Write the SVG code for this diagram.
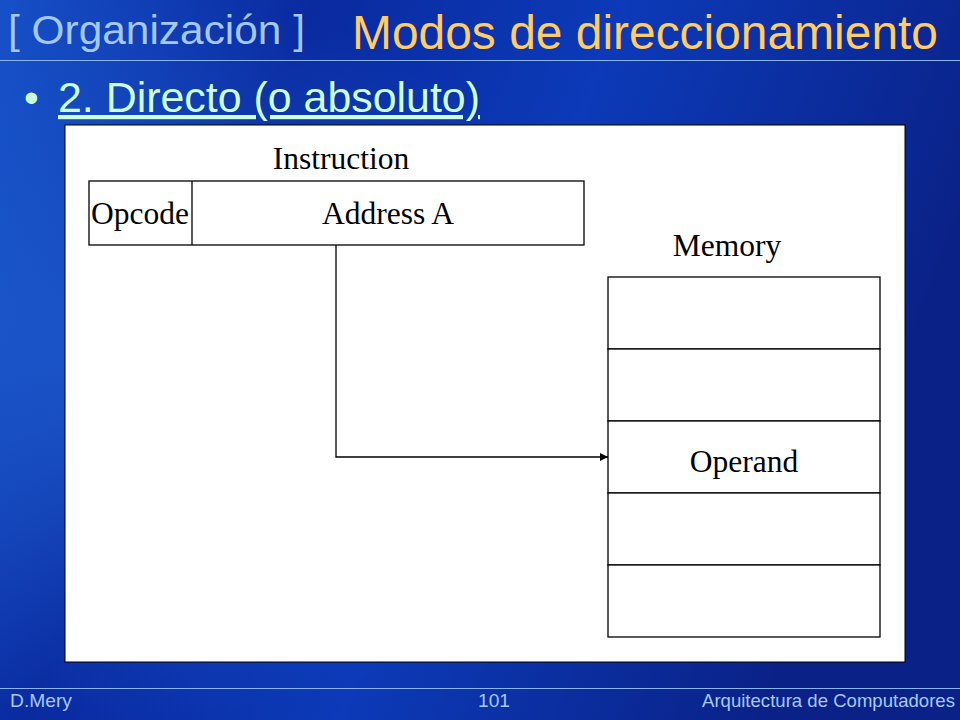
<svg xmlns="http://www.w3.org/2000/svg" width="960" height="720" viewBox="0 0 960 720">
<defs>
<linearGradient id="bg" x1="0" y1="0" x2="1" y2="0.3">
<stop offset="0" stop-color="#1650c8"/>
<stop offset="0.3" stop-color="#0a2aa0"/>
<stop offset="0.6" stop-color="#0c3ab8"/>
<stop offset="1" stop-color="#0a2288"/>
</linearGradient>
<radialGradient id="glow" cx="0.15" cy="0.5" r="0.5">
<stop offset="0" stop-color="#2a7ae8" stop-opacity="0.5"/>
<stop offset="1" stop-color="#2a7ae8" stop-opacity="0"/>
</radialGradient>
<marker id="arr" viewBox="0 0 10 10" refX="10" refY="5" markerWidth="9" markerHeight="8" markerUnits="userSpaceOnUse" orient="auto">
<path d="M0,0 L10,5 L0,10 z" fill="#000"/>
</marker>
</defs>
<style>
.t{font-family:"Liberation Serif",serif;font-size:31.5px;fill:#000}
.box{fill:#fff;stroke:#000;stroke-width:1.3}
.hdr{font-family:"Liberation Sans",Arial,sans-serif}
.ft{font-family:"Liberation Sans",Arial,sans-serif;font-size:19px;fill:#a8c8f4}
</style>
<rect width="960" height="720" fill="url(#bg)"/>
<rect width="960" height="720" fill="url(#glow)"/>
<line x1="0" y1="60.5" x2="960" y2="60.5" stroke="#8ab4ec" stroke-width="1"/>
<line x1="0" y1="688.5" x2="960" y2="688.5" stroke="#8ab4ec" stroke-width="1"/>
<text class="hdr" x="8" y="44" font-size="41" fill="#a4c8f4" textLength="297" lengthAdjust="spacingAndGlyphs">[ Organización ]</text>
<text class="hdr" x="352" y="49" font-size="48" fill="#ffcc66" textLength="586" lengthAdjust="spacingAndGlyphs">Modos de direccionamiento</text>
<text class="hdr" x="24" y="112" font-size="42" fill="#ccffdd">•</text>
<text class="hdr" x="58" y="112" font-size="42" fill="#ccffdd" text-decoration="underline" textLength="422" lengthAdjust="spacingAndGlyphs">2. Directo (o absoluto)</text>
<rect x="65" y="125" width="840" height="537" fill="#fff" stroke="#000" stroke-width="1"/>
<g id="instruction">
<text class="t" x="341" y="169" text-anchor="middle">Instruction</text>
<rect class="box" x="89" y="181" width="495" height="64"/>
<line x1="192" y1="181" x2="192" y2="245" stroke="#000" stroke-width="1.3"/>
<text class="t" x="140" y="224" text-anchor="middle">Opcode</text>
<text class="t" x="388" y="224" text-anchor="middle">Address A</text>
</g>
<g id="memory">
<text class="t" x="727" y="256" text-anchor="middle">Memory</text>
<rect class="box" x="608" y="277" width="272" height="72"/>
<rect class="box" x="608" y="349" width="272" height="72"/>
<rect class="box" x="608" y="421" width="272" height="72"/>
<rect class="box" x="608" y="493" width="272" height="72"/>
<rect class="box" x="608" y="565" width="272" height="72"/>
<text class="t" x="744" y="472" text-anchor="middle">Operand</text>
</g>
<g id="connectors">
<polyline points="336,245 336,457 608,457" fill="none" stroke="#000" stroke-width="1.3" marker-end="url(#arr)"/>
</g>
<text class="ft" x="10" y="707" textLength="62" lengthAdjust="spacingAndGlyphs">D.Mery</text>
<text class="ft" x="478" y="707" textLength="32" lengthAdjust="spacingAndGlyphs">101</text>
<text class="ft" x="702" y="707" textLength="253" lengthAdjust="spacingAndGlyphs">Arquitectura de Computadores</text>
</svg>
